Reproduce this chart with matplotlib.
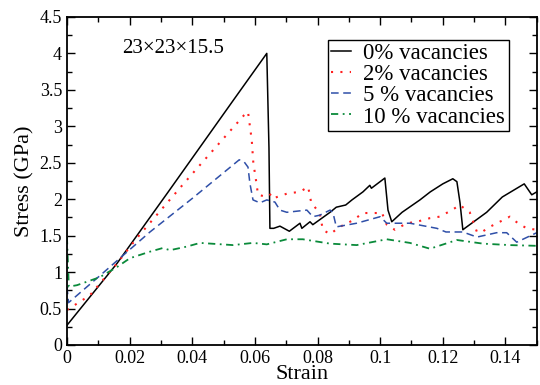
import matplotlib
matplotlib.use('Agg')
import matplotlib.pyplot as plt
from matplotlib.ticker import MultipleLocator, FuncFormatter

plt.rcParams['font.family'] = ['Liberation Serif', 'DejaVu Serif']

# 0% vacancies
strain0 = [0, 0.016, 0.032, 0.053, 0.0638, 0.0645, 0.0648, 0.066, 0.068, 0.071,
           0.0744, 0.075, 0.0776, 0.0785, 0.084, 0.086, 0.089, 0.091, 0.0945, 0.0967,
           0.0972, 0.1015, 0.1025, 0.1037, 0.107, 0.1127, 0.116, 0.12, 0.1232, 0.1245,
           0.1255, 0.1264, 0.127, 0.134, 0.139, 0.146, 0.1484, 0.15]
stress0 = [0.27, 1.12, 2.08, 3.35, 4.0, 2.7, 1.6, 1.60, 1.63, 1.56,
           1.67, 1.60, 1.69, 1.65, 1.82, 1.89, 1.92, 1.99, 2.10, 2.19,
           2.15, 2.29, 1.85, 1.69, 1.82, 1.99, 2.10, 2.21, 2.28, 2.24,
           1.95, 1.58, 1.60, 1.82, 2.03, 2.21, 2.06, 2.10]

# 2% vacancies
strain2 = [0, 0.0073, 0.016, 0.022, 0.03, 0.037, 0.0425, 0.053, 0.0565, 0.0578, 0.059,
           0.0595, 0.0605, 0.061, 0.064, 0.0654, 0.0664, 0.0705, 0.0744, 0.077, 0.078,
           0.0807, 0.0817, 0.084, 0.0871, 0.0913, 0.0945, 0.0993, 0.1005, 0.1021, 0.1047,
           0.1085, 0.1117, 0.1159, 0.119, 0.1229, 0.1254, 0.1286, 0.1309, 0.1325, 0.135,
           0.1382, 0.1414, 0.144, 0.1468, 0.15]
stress2 = [0.48, 0.68, 1.12, 1.45, 1.85, 2.20, 2.47, 2.98, 3.15, 3.20, 2.81,
           2.50, 2.22, 2.06, 2.03, 2.08, 2.02, 2.08, 2.10, 2.17, 1.95,
           1.81, 1.58, 1.52, 1.62, 1.71, 1.81, 1.81, 1.82, 1.65, 1.58,
           1.67, 1.69, 1.74, 1.76, 1.85, 1.92, 1.82, 1.55, 1.55, 1.62,
           1.69, 1.76, 1.67, 1.60, 1.58]

# 5 % vacancies
strain5 = [0, 0.0005, 0.0105, 0.0169, 0.0265, 0.04, 0.055, 0.0566, 0.0578, 0.0584,
           0.0594, 0.0616, 0.0638, 0.0664, 0.068, 0.0702, 0.0744, 0.0766, 0.0785, 0.0807,
           0.084, 0.0849, 0.086, 0.0925, 0.1, 0.1021, 0.1095, 0.1181, 0.121, 0.1264,
           0.1309, 0.1372, 0.1404, 0.1436, 0.15]
stress5 = [0.80, 0.58, 0.95, 1.19, 1.55, 2.01, 2.54, 2.51, 2.44, 2.22,
           1.99, 1.95, 1.99, 1.96, 1.85, 1.82, 1.84, 1.85, 1.76, 1.78,
           1.85, 1.82, 1.62, 1.67, 1.76, 1.67, 1.67, 1.60, 1.55, 1.55,
           1.48, 1.54, 1.54, 1.41, 1.54]

# 10 % vacancies
strain10 = [0, 0.0006, 0.0032, 0.0105, 0.016, 0.0201, 0.0265, 0.0306, 0.0329, 0.0383,
            0.0425, 0.053, 0.0594, 0.0638, 0.0702, 0.0753, 0.084, 0.0925, 0.1021, 0.1095,
            0.1159, 0.1245, 0.1328, 0.1414, 0.15]
stress10 = [1.48, 0.80, 0.82, 0.93, 1.07, 1.19, 1.28, 1.33, 1.30, 1.35,
            1.40, 1.37, 1.40, 1.38, 1.45, 1.45, 1.39, 1.37, 1.45, 1.40,
            1.32, 1.44, 1.39, 1.37, 1.36]

fig = plt.figure(figsize=(5.4, 3.85), dpi=100)
ax = fig.add_axes([0.124, 0.104, 0.870, 0.852])

ax.plot(strain0, stress0, color='black', lw=1.1, label='0% vacancies')
ax.plot(strain2, stress2, color='#ff2020', lw=1.5, linestyle=(0, (1, 3.5)), label='2% vacancies')
ax.plot(strain5, stress5, color='#2f4fa8', lw=1.1, linestyle=(0, (5, 3)), label='5 % vacancies')
ax.plot(strain10, stress10, color='#0a8a3a', lw=1.3, linestyle=(0, (4, 2.5, 1, 2.5)), label='10 % vacancies')

ax.set_xlim(0, 0.15)
ax.set_ylim(0, 4.5)
ax.xaxis.set_major_locator(MultipleLocator(0.02))
ax.xaxis.set_minor_locator(MultipleLocator(0.01))
ax.yaxis.set_major_locator(MultipleLocator(0.5))
ax.yaxis.set_minor_locator(MultipleLocator(0.25))
fmt = FuncFormatter(lambda v, p: '%g' % round(v, 4))
ax.xaxis.set_major_formatter(fmt)
ax.yaxis.set_major_formatter(fmt)
ax.tick_params(which='both', direction='in', top=True, right=True, labelsize=13, width=1.0)
ax.tick_params(which='major', length=6)
ax.tick_params(which='minor', length=3.5)
for s in ax.spines.values():
    s.set_linewidth(1.3)

ax.set_xlabel('Strain', fontsize=16, labelpad=-1)
ax.set_ylabel('Stress (GPa)', fontsize=16, labelpad=4)

ax.text(0.118, 0.905, '23\u00d723\u00d715.5', transform=ax.transAxes, fontsize=15, va='center')

leg = ax.legend(loc='upper right', bbox_to_anchor=(0.940, 0.930), borderaxespad=0,
                fontsize=16.5, frameon=True, fancybox=False, edgecolor='black',
                labelspacing=0.0, handlelength=0.85, handletextpad=0.55,
                borderpad=0.15, framealpha=1)
leg.get_frame().set_linewidth(1.0)

fig.savefig('out.png', dpi=100)
